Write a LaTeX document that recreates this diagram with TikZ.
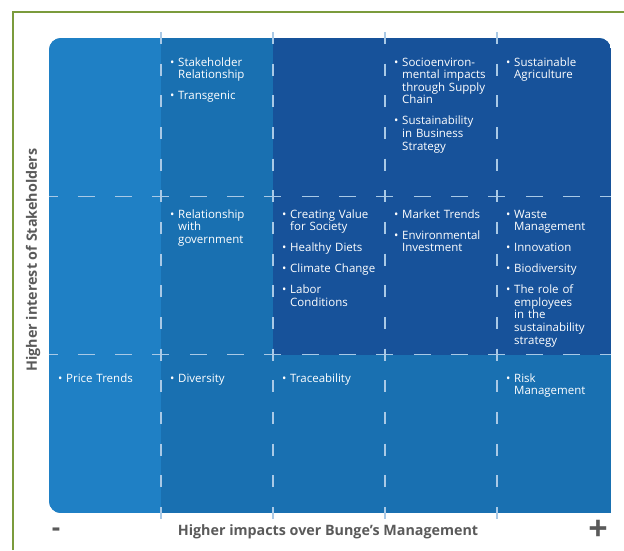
\documentclass[tikz,border=0pt]{standalone}
\usepackage{fontspec}
\setmainfont{Open Sans}

\definecolor{framegreen}{HTML}{7B9B3C}
\definecolor{blueL}{HTML}{1F80C5}
\definecolor{blueM}{HTML}{1970B1}
\definecolor{blueD}{HTML}{17529A}
\definecolor{dashblue}{HTML}{A9C9E6}
\definecolor{axisgray}{HTML}{5A5A5A}

\newcommand{\bul}{\leavevmode\llap{\makebox[8pt][l]{\textbullet}}}

\tikzset{
    cell/.style={anchor=base west, text width=104pt, align=left, inner sep=0pt,
        text=white, font=\fontsize{11.5}{12.6}\selectfont,
        execute at begin node={\setlength{\parskip}{8.4pt}\setlength{\leftskip}{8pt}}},
    gridline/.style={dashblue, line width=1.3pt},
    axislabel/.style={text=axisgray, inner sep=0pt, font=\bfseries\fontsize{14.3}{16}\selectfont}
}

\begin{document}
\begin{tikzpicture}[x=1pt, y=-1pt]
    \useasboundingbox (0,0) rectangle (624,550);
    \draw[framegreen, line width=1.2pt] (13,550) -- (13,12) -- (624,12);

    \coordinate (TL) at ( 49,  38);
    \coordinate (TR) at (611,  38);
    \coordinate (BL) at ( 49, 513);
    \coordinate (BR) at (611, 513);

    \begin{scope}
        \clip (BR) [rounded corners=12pt] -- (BL) -- (TL) -- (TR) -- (611,60) [sharp corners] -- cycle;
        \fill[blueM] (TL) rectangle (BR);
        \fill[blueL] (TL) rectangle (161,513);
        \fill[blueD] (273,38) rectangle (611,354.7);
    \end{scope}

    \foreach \x in {161,273,385,497}
        \draw[gridline, dash pattern=on 12pt off 19.67pt] (\x,32) -- (\x,519);
    \foreach \y in {196.3,354.7}
        \draw[gridline, dash pattern=on 17pt off 20.33pt, dash phase=8.5pt] (49,\y) -- (611,\y);

    \node[cell] (c12) at (170,66) {\bul Stakeholder\\Relationship\par\bul Transgenic};
    \node[cell] (c14) at (394,66) {\bul Socioenviron-\\mental impacts\\through Supply\\Chain\par\bul Sustainability\\in Business\\Strategy};
    \node[cell] (c15) at (506,66) {\bul Sustainable\\Agriculture};

    \node[cell] (c22) at (170,218) {\bul Relationship\\with\\government};
    \node[cell] (c23) at (282,218) {\bul Creating Value\\for Society\par\bul Healthy Diets\par\bul Climate Change\par\bul Labor\\Conditions};
    \node[cell] (c24) at (394,218) {\bul Market Trends\par\bul Environmental\\Investment};
    \node[cell] (c25) at (506,218) {\bul Waste\\Management\par\bul Innovation\par\bul Biodiversity\par\bul The role of\\employees\\in the\\sustainability\\strategy};

    \node[cell] (c31) at ( 58,382) {\bul Price Trends};
    \node[cell] (c32) at (170,382) {\bul Diversity};
    \node[cell] (c33) at (282,382) {\bul Traceability};
    \node[cell] (c35) at (506,382) {\bul Risk\\Management};

    \node[axislabel, rotate=90] (ylab) at (33,260) {Higher interest of Stakeholders};
    \node[axislabel] (xlab) at (328,532) {Higher impacts over Bunge’s Management};
    \node[axislabel, font=\bfseries\fontsize{26}{26}\selectfont] (minus) at (56,532) {-};
    \node[axislabel, font=\bfseries\fontsize{34}{34}\selectfont] (plus) at (598,530) {+};
\end{tikzpicture}
\end{document}
